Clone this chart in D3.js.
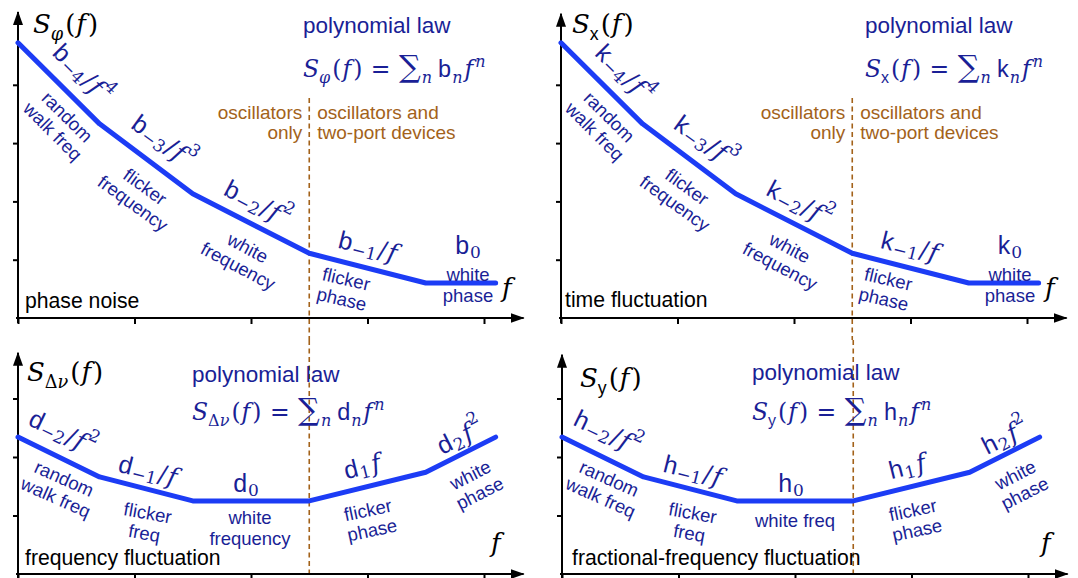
<!DOCTYPE html>
<html><head><meta charset="utf-8">
<script src="https://cdn.jsdelivr.net/npm/d3@7"></script>
<style>body{margin:0;background:#fff}</style>
</head><body>
<svg id="chart" width="1078" height="578"></svg>
<script>
// Break frequencies along f (decades) shared by the four spectra
const breakFreqs = [0, 0.7, 1.5, 2.5, 3.5, 4.1];
// Spectrum level (decades) at each break frequency
const phaseNoiseLevels    = [4.72, 3.33, 2.13, 1.11, 0.6, 0.6];
const timeFluctLevels     = [4.72, 3.33, 2.13, 1.11, 0.6, 0.6];
const freqFluctLevels     = [2.34, 1.66, 1.25, 1.25, 1.74, 2.34];
const fracFreqFluctLevels = [2.34, 1.66, 1.25, 1.25, 1.74, 2.34];
// Frequency separating oscillator-only processes from two-port ones
const deviceBoundary = 2.5;
const xTickValues = [0, 1, 2, 3, 4];
const yTicksTop = [1, 2, 3, 4];
const yTicksBottom = [1, 2, 3];
// Exponent n of each power-law term, per row
const topExponents = [-4, -3, -2, -1, 0];
const bottomExponents = [-2, -1, 0, 1, 2];
const topProcesses = [["random", "walk freq"], ["flicker", "frequency"], ["white", "frequency"], ["flicker", "phase"], ["white", "phase"]];
const freqProcesses = [["random", "walk freq"], ["flicker", "freq"], ["white", "frequency"], ["flicker", "phase"], ["white", "phase"]];
const fracProcesses = [["random", "walk freq"], ["flicker", "freq"], ["white freq"], ["flicker", "phase"], ["white", "phase"]];
const panelTitles = ["phase noise", "time fluctuation", "frequency fluctuation", "fractional-frequency fluctuation"];
const coefLetters = ["b", "k", "d", "h"];
const leftRegionText = ["oscillators", "only"];
const rightRegionText = ["oscillators and", "two-port devices"];

const SANS = "'Liberation Sans', Arial, sans-serif";
const SERIF = "'DejaVu Serif', 'Liberation Serif', serif";
const LINE_BLUE = "#1c3cf5";
const TEXT_BLUE = "#1a1f96";
const BROWN = "#a3621a";

const svg = d3.select("#chart");
const defs = svg.append("defs");
defs.append("marker").attr("id", "arrow").attr("viewBox", "0 0 14 10")
  .attr("refX", 13).attr("refY", 5).attr("markerWidth", 14).attr("markerHeight", 10)
  .attr("markerUnits", "userSpaceOnUse").attr("orient", "auto")
  .append("path").attr("d", "M0,0 L14,5 L0,10 Z").attr("fill", "#000");

// Write a small math expression made of tspans (sub/superscripts, italics)
function mathText(parent, parts, size, color) {
  const text = parent.append("text").attr("fill", color).attr("font-size", size);
  let shift = 0;
  parts.forEach(p => {
    const target = p.s === "sub" ? size * 0.26 : p.s === "sup" ? -size * 0.42 : 0;
    const fs = p.s ? size * 0.68 : size * (p.scale || 1);
    const ts = text.append("tspan").text(p.t)
      .attr("dy", target - shift)
      .attr("font-family", p.f === "sans" ? SANS : SERIF)
      .attr("font-style", p.i ? "italic" : "normal")
      .attr("font-size", fs);
    if (p.dx) ts.attr("dx", p.dx);
    shift = target;
  });
  return text;
}

function coefParts(letter, n) {
  const parts = [{t: letter, f: "sans"}, {t: n < 0 ? "\u2212" + (-n) : String(n), s: "sub", dx: 1}];
  if (n < 0) {
    parts.push({t: "/", dx: 1}, {t: "f", i: true, dx: 1});
    if (n < -1) parts.push({t: String(-n), s: "sup", dx: 1});
  } else if (n > 0) {
    parts.push({t: "f", i: true, dx: 2});
    if (n > 1) parts.push({t: String(n), s: "sup", dx: 1});
  }
  return parts;
}

// Label positions (x, y, rotation) for each row, in left-panel pixels
const topCoefPos = [[83, 73, 45], [164, 141, 36], [258, 203, 28], [368, 246, 14], [468, 245, 0]];
const topProcPos = [[60, 124, 45], [139, 195, 36], [243, 257, 28], [344, 289, 13], [468, 285, 0]];
const bottomCoefPos = [[63, 432, 26], [148, 470, 14], [246, 483, 0], [362, 466, -14], [460, 436, -27]];
const bottomProcPos = [[60, 488, 24], [146, 523, 10], [250, 528, 0], [370, 520, -12], [475, 484, -27]];
const fracProcPos = bottomProcPos.map((p, i) => i === 2 ? [250, 520, 0] : p);

const panels = [
  {levels: phaseNoiseLevels, letter: coefLetters[0], exps: topExponents, procs: topProcesses, title: panelTitles[0],
   ox: 18, axisY: 318, yTicks: yTicksTop, yMax: 5.25, coefPos: topCoefPos, procPos: topProcPos, dx: 0,
   sub: [{t: "\u03C6", i: true, s: "sub"}], titlePos: [33, 33], polyPos: [303, 33, 77], namePos: [25, 308], fPos: [502, 297],
   dash: [98, 340], regions: true},
  {levels: timeFluctLevels, letter: coefLetters[1], exps: topExponents, procs: topProcesses, title: panelTitles[1],
   ox: 561, axisY: 318, yTicks: yTicksTop, yMax: 5.22, coefPos: topCoefPos, procPos: topProcPos, dx: 542,
   sub: [{t: "x", f: "sans", s: "sub"}], titlePos: [572, 33], polyPos: [865, 33, 77], namePos: [565, 307], fPos: [1045, 297],
   dash: [98, 340], regions: true},
  {levels: freqFluctLevels, letter: coefLetters[2], exps: bottomExponents, procs: freqProcesses, title: panelTitles[2],
   ox: 18, axisY: 574, yTicks: yTicksBottom, yMax: 3.78, coefPos: bottomCoefPos, procPos: bottomProcPos, dx: 0,
   sub: [{t: "\u0394", s: "sub"}, {t: "\u03BD", i: true, s: "sub"}], titlePos: [27, 381], polyPos: [192, 382, 420], namePos: [25, 565], fPos: [491, 552],
   dash: [340, 578], regions: false},
  {levels: fracFreqFluctLevels, letter: coefLetters[3], exps: bottomExponents, procs: fracProcesses, title: panelTitles[3],
   ox: 562, axisY: 574, yTicks: yTicksBottom, yMax: 3.75, coefPos: bottomCoefPos, procPos: fracProcPos, dx: 545,
   sub: [{t: "y", f: "sans", s: "sub"}], titlePos: [580, 387], polyPos: [752, 380, 420], namePos: [572, 565], fPos: [1041, 552],
   dash: [340, 578], regions: false}
];

const UNIT_X = 116.5, UNIT_Y_TOP = 58.3, UNIT_Y_BOTTOM = 58.5;

panels.forEach(p => {
  const unitY = p.axisY < 400 ? UNIT_Y_TOP : UNIT_Y_BOTTOM;
  const x = d3.scaleLinear().domain([0, 1]).range([p.ox, p.ox + UNIT_X]);
  const y = d3.scaleLinear().domain([0, 1]).range([p.axisY, p.axisY - unitY]);
  const g = svg.append("g");

  // device-type boundary
  g.append("line").attr("x1", x(deviceBoundary)).attr("x2", x(deviceBoundary))
    .attr("y1", p.dash[0]).attr("y2", p.dash[1])
    .attr("stroke", BROWN).attr("stroke-width", 1.6).attr("stroke-dasharray", "5,3.5");

  // axes
  g.append("g").attr("transform", `translate(${p.ox},0)`)
    .call(d3.axisLeft(y).tickValues(p.yTicks).tickSize(5).tickFormat(""))
    .call(a => a.select(".domain").remove())
    .call(a => a.selectAll(".tick line").attr("stroke", "#000").attr("stroke-width", 2));
  g.append("g").attr("transform", `translate(0,${p.axisY})`)
    .call(d3.axisBottom(x).tickValues(xTickValues).tickSize(6).tickFormat(""))
    .call(a => a.select(".domain").remove())
    .call(a => a.selectAll(".tick line").attr("stroke", "#000").attr("stroke-width", 2));
  g.append("line").attr("x1", p.ox).attr("x2", p.ox).attr("y1", p.axisY + 5).attr("y2", y(p.yMax))
    .attr("stroke", "#000").attr("stroke-width", 2).attr("marker-end", "url(#arrow)");
  g.append("line").attr("x1", p.ox - 2).attr("x2", x(4.34)).attr("y1", p.axisY).attr("y2", p.axisY)
    .attr("stroke", "#000").attr("stroke-width", 2).attr("marker-end", "url(#arrow)");

  // spectrum
  const line = d3.line().x((d, i) => x(breakFreqs[i])).y(d => y(d));
  g.append("path").datum(p.levels).attr("d", line).attr("fill", "none")
    .attr("stroke", LINE_BLUE).attr("stroke-width", 5).attr("stroke-linejoin", "round").attr("stroke-linecap", "round");

  // y-axis title S_?(f)
  const tt = g.append("g").attr("transform", `translate(${p.titlePos[0]},${p.titlePos[1]})`);
  mathText(tt, [{t: "S", i: true}, ...p.sub, {t: "(", dx: 2}, {t: "f", i: true, dx: 1}, {t: ")", dx: 2}], 26, "#000");

  // polynomial law heading and formula
  g.append("text").attr("x", p.polyPos[0]).attr("y", p.polyPos[1]).attr("font-family", SANS)
    .attr("font-size", 22.5).attr("fill", TEXT_BLUE).text("polynomial law");
  const ft = g.append("g").attr("transform", `translate(${p.polyPos[0]},${p.polyPos[2]})`);
  mathText(ft, [{t: "S", i: true}, ...p.sub, {t: "(", dx: 2}, {t: "f", i: true, dx: 1}, {t: ")", dx: 2},
    {t: " = ", dx: 1}, {t: "\u2211", scale: 1.3, dx: 1}, {t: "n", i: true, s: "sub", dx: 1}, {t: p.letter, f: "sans", dx: 6},
    {t: "n", i: true, s: "sub", dx: 1}, {t: "f", i: true, dx: 2}, {t: "n", i: true, s: "sup", dx: 2}], 23.5, TEXT_BLUE);

  // panel name
  g.append("text").attr("x", p.namePos[0]).attr("y", p.namePos[1]).attr("font-family", SANS)
    .attr("font-size", 21.2).attr("fill", "#000").text(p.title);

  // frequency axis label
  g.append("text").attr("x", p.fPos[0]).attr("y", p.fPos[1]).attr("font-family", SERIF)
    .attr("font-style", "italic").attr("font-size", 26).attr("fill", "#000").text("f");

  // power-law coefficients along the curve
  p.exps.forEach((n, i) => {
    const [cx, cy, rot] = p.coefPos[i];
    const lg = g.append("g").attr("transform", `translate(${cx + p.dx},${cy}) rotate(${rot})`);
    mathText(lg, coefParts(p.letter, n), 25, TEXT_BLUE)
      .attr("text-anchor", "middle").attr("dominant-baseline", "central");
  });

  // noise process names
  p.procs.forEach((lines, i) => {
    const [cx, cy, rot] = p.procPos[i];
    const lg = g.append("g").attr("transform", `translate(${cx + p.dx},${cy}) rotate(${rot})`);
    lines.forEach((s, j) => {
      lg.append("text").attr("x", 0).attr("y", (j - (lines.length - 1) / 2) * 20.5)
        .attr("text-anchor", "middle").attr("dominant-baseline", "central")
        .attr("font-family", SANS).attr("font-size", 18.5).attr("fill", TEXT_BLUE).text(s);
    });
  });

  // oscillator / two-port region notes
  if (p.regions) {
    const bx = x(deviceBoundary);
    leftRegionText.forEach((s, j) => g.append("text").attr("x", bx - 7).attr("y", 119 + j * 20)
      .attr("text-anchor", "end").attr("font-family", SANS).attr("font-size", 19).attr("fill", BROWN).text(s));
    rightRegionText.forEach((s, j) => g.append("text").attr("x", bx + 8).attr("y", 119 + j * 20)
      .attr("font-family", SANS).attr("font-size", 19).attr("fill", BROWN).text(s));
  }
});
</script>
</body></html>
